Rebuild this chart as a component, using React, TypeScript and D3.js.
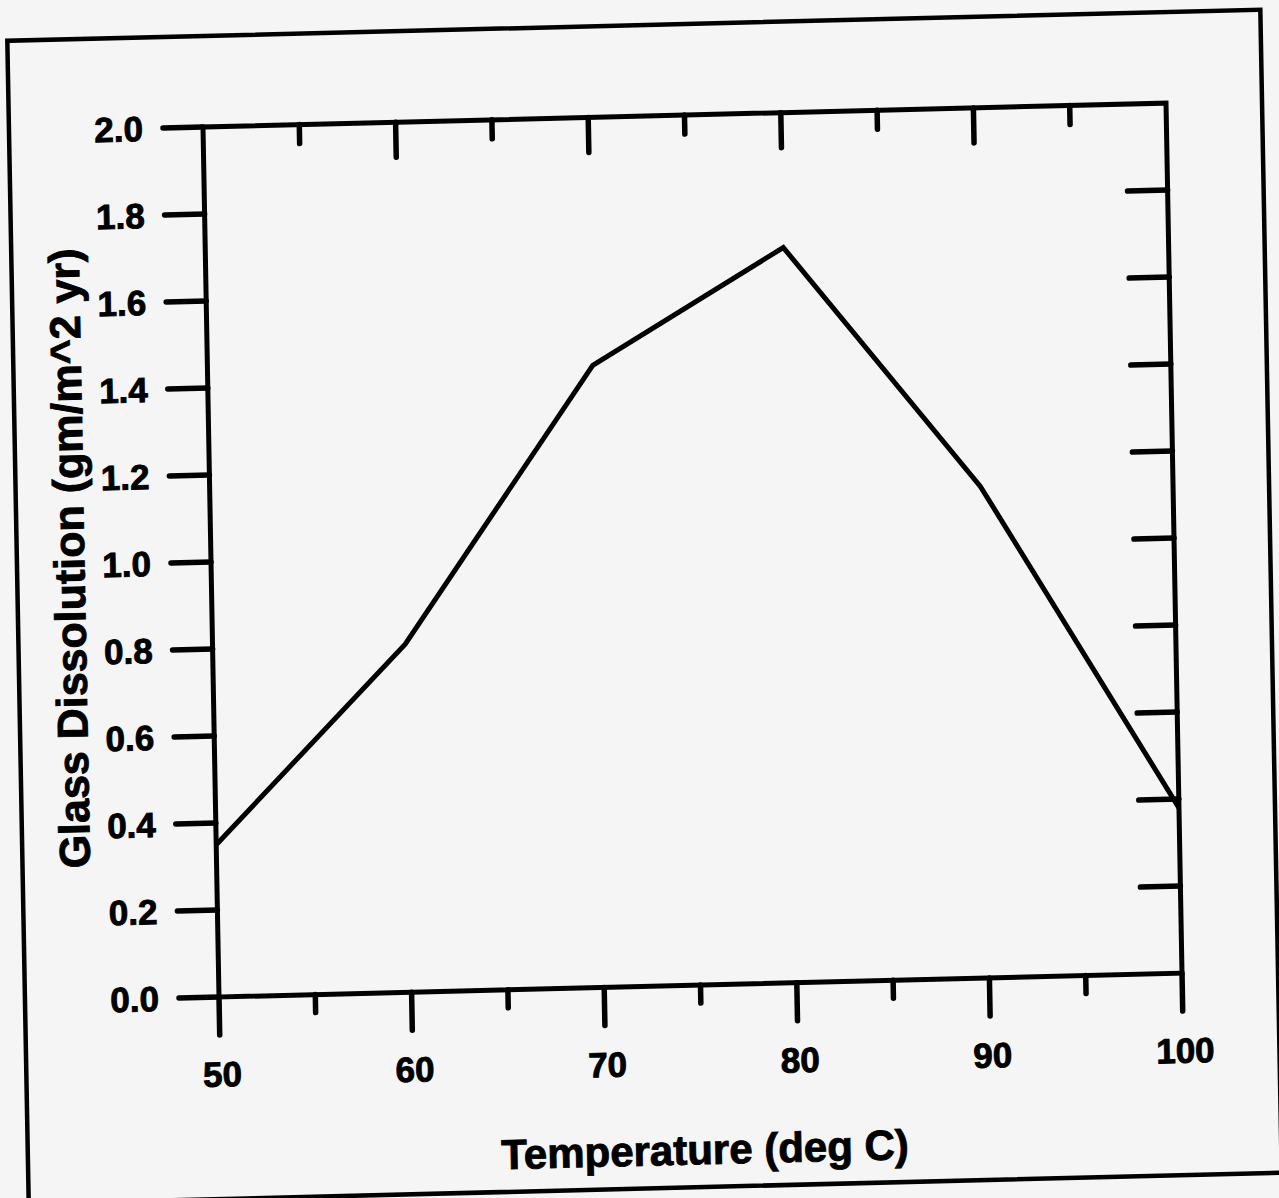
import React from "react";
import * as d3 from "d3";

const temps = [50, 60, 70, 80, 90, 100];
const dissolution = [0.35, 0.8, 1.43, 1.69, 1.13, 0.38];
const xMajorTicks = [50, 60, 70, 80, 90, 100];
const xMinorTicks = [55, 65, 75, 85, 95];
const yTicks = [0, 0.2, 0.4, 0.6, 0.8, 1.0, 1.2, 1.4, 1.6, 1.8, 2.0];
const xTitle = "Temperature (deg C)";
const yTitle = "Glass Dissolution (gm/m^2 yr)";

const W = 963;
const H = 870;
const FONT = "'Liberation Sans', Arial, Helvetica, sans-serif";

export default function App() {
  const x = d3.scaleLinear().domain([50, 100]).range([0, W]);
  const y = d3.scaleLinear().domain([0, 2]).range([H, 0]);
  const line = d3
    .line<number>()
    .x((_, i) => x(temps[i]))
    .y((d) => y(d));

  const sw = 5;
  const textProps = {
    fontFamily: FONT,
    fontWeight: "bold" as const,
    fill: "#000",
    stroke: "#000",
    strokeWidth: 0.9,
  };
  return (
    <svg
      width={1279}
      height={1198}
      style={{ position: "absolute", left: 0, top: 0 }}
    >
      <rect x={0} y={0} width={1279} height={1198} fill="#f5f5f5" />
      <g transform="translate(203,127) matrix(1,-0.0248,0.0184,1,0,0)">
        {/* outer frame */}
        <rect
          x={-194}
          y={-91}
          width={1253}
          height={1163}
          fill="none"
          stroke="#000"
          strokeWidth={4.5}
        />
        {/* plot box */}
        <rect x={0} y={0} width={W} height={H} fill="none" stroke="#000" strokeWidth={sw} />
        {/* left ticks + labels */}
        {yTicks.map((t) => (
          <g key={"yl" + t}>
            <line x1={-40} x2={0} y1={y(t)} y2={y(t)} stroke="#000" strokeWidth={5.5} strokeLinecap="round" />
            <text x={-60} y={y(t)} dy="0.36em" textAnchor="end" fontSize={35} {...textProps}>
              {t.toFixed(1)}
            </text>
          </g>
        ))}
        {/* right ticks (inward) */}
        {yTicks
          .filter((t) => t > 0 && t < 2)
          .map((t) => (
            <line key={"yr" + t} x1={W - 40} x2={W} y1={y(t)} y2={y(t)} stroke="#000" strokeWidth={5.5} strokeLinecap="round" />
          ))}
        {/* bottom ticks */}
        {xMajorTicks.map((t) => (
          <g key={"xb" + t}>
            <line x1={x(t)} x2={x(t)} y1={H} y2={H + 38} stroke="#000" strokeWidth={5.5} strokeLinecap="round" />
            <text x={x(t) + 2} y={H + 77} dy="0.36em" textAnchor="middle" fontSize={35} {...textProps}>
              {t}
            </text>
          </g>
        ))}
        {xMinorTicks.map((t) => (
          <line key={"xbm" + t} x1={x(t)} x2={x(t)} y1={H} y2={H + 18} stroke="#000" strokeWidth={5.5} strokeLinecap="round" />
        ))}
        {/* top ticks (inward) */}
        {xMajorTicks
          .filter((t) => t > 50 && t < 100)
          .map((t) => (
            <line key={"xt" + t} x1={x(t)} x2={x(t)} y1={0} y2={35} stroke="#000" strokeWidth={5.5} strokeLinecap="round" />
          ))}
        {xMinorTicks.map((t) => (
          <line key={"xtm" + t} x1={x(t)} x2={x(t)} y1={0} y2={19} stroke="#000" strokeWidth={5.5} strokeLinecap="round" />
        ))}
        {/* data line */}
        <path
          d={line(dissolution) || ""}
          fill="none"
          stroke="#000"
          strokeWidth={5}
          strokeLinejoin="miter"
        />
        {/* titles */}
        <text x={483} y={1034} dy="0.36em" textAnchor="middle" fontSize={42} {...textProps}>
          {xTitle}
        </text>
        <text
          transform={`translate(-142,428) rotate(-90)`}
          dy="0.36em"
          textAnchor="middle"
          fontSize={43}
          {...textProps}
        >
          {yTitle}
        </text>
      </g>
    </svg>
  );
}
